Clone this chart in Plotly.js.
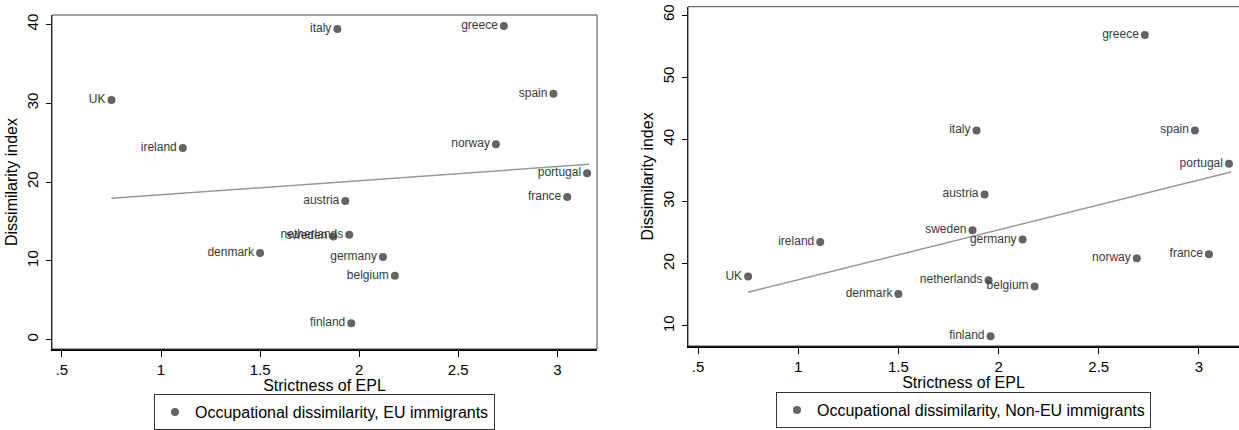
<!DOCTYPE html>
<html>
<head>
<meta charset="utf-8">
<script src="https://cdn.plot.ly/plotly-3.0.1.min.js"></script>
<style>html,body{margin:0;padding:0;background:#fff;}#chart{width:1239px;height:430px;}</style>
</head>
<body>
<div id="chart"></div>
<script>
var countries = ['UK','ireland','italy','greece','spain','norway','portugal','france','austria','netherlands','sweden','germany','belgium','denmark','finland'];
var epl = [0.75,1.11,1.89,2.73,2.98,2.69,3.15,3.05,1.93,1.95,1.87,2.12,2.18,1.50,1.96];
var dissimEU = [30.4,24.3,39.4,39.8,31.2,24.8,21.1,18.1,17.6,13.3,13.1,10.5,8.1,11.0,2.1];
var dissimNonEU = [17.95,23.5,41.45,56.8,41.45,20.9,36.1,21.55,31.15,17.35,25.4,23.9,16.35,15.15,8.35];
var fitX = [0.75,3.16];
var fitEU = [17.93,22.25];
var fitNonEU = [15.42,34.75];
var legendEU = 'Occupational dissimilarity, EU immigrants';
var legendNonEU = 'Occupational dissimilarity, Non-EU immigrants';
var xTicks = [0.5,1,1.5,2,2.5,3];
var xTickText = ['.5','1','1.5','2','2.5','3'];
var yTicksEU = [0,10,20,30,40];
var yTicksNonEU = [10,20,30,40,50,60];

var FONT = '"Liberation Sans", Arial, Helvetica, sans-serif';
var W = 1239, H = 430;
var dL = [52/W, 597/W], dR = [688/W, 1];
var yL = [1-349/H, 1-15/H], yR = [1-346/H, 1-6.7/H];

var markerStyle = {color:'#646464', size:8};
var textStyle = {family:FONT, size:12, color:'#3a3a3a'};

var traces = [
  {x:fitX, y:fitEU, mode:'lines', line:{color:'#999999', width:1.5}, showlegend:false, xaxis:'x', yaxis:'y', hoverinfo:'skip'},
  {x:epl, y:dissimEU, text:countries, mode:'markers+text', textposition:'middle left', textfont:textStyle,
   marker:markerStyle, name:legendEU, xaxis:'x', yaxis:'y', legend:'legend'},
  {x:fitX, y:fitNonEU, mode:'lines', line:{color:'#999999', width:1.5}, showlegend:false, xaxis:'x2', yaxis:'y2', hoverinfo:'skip'},
  {x:epl, y:dissimNonEU, text:countries, mode:'markers+text', textposition:'middle left', textfont:textStyle,
   marker:markerStyle, name:legendNonEU, xaxis:'x2', yaxis:'y2', legend:'legend2'}
];

function xax(domain, anchor){
  return {domain:domain, anchor:anchor, range:[0.45,3.2], tickvals:xTicks, ticktext:xTickText,
    ticks:'outside', ticklen:6, tickwidth:1, tickcolor:'#000', showline:true, linecolor:'#000', linewidth:1.5,
    showgrid:false, zeroline:false, tickfont:{family:FONT, size:15, color:'#000'},
    title:{text:'Strictness of EPL', font:{family:FONT, size:16, color:'#000'}, standoff:0}};
}
function yax(domain, anchor, range, ticks){
  return {domain:domain, anchor:anchor, range:range, tickvals:ticks, tickangle:-90,
    ticks:'outside', ticklen:5, tickwidth:1, tickcolor:'#000', showline:true, linecolor:'#000', linewidth:1.5,
    showgrid:false, zeroline:false, tickfont:{family:FONT, size:15, color:'#000'}, ticklabelstandoff:2,
    title:{text:'Dissimilarity index', font:{family:FONT, size:16, color:'#000'}, standoff:2}};
}

var layout = {
  width:W, height:H, margin:{l:0,r:0,t:0,b:0}, paper_bgcolor:'#fff', plot_bgcolor:'#fff',
  font:{family:FONT, color:'#000'},
  xaxis: xax(dL,'y'), yaxis: yax(yL,'x',[-1.18,41.18], yTicksEU),
  xaxis2: xax(dR,'y2'), yaxis2: yax(yR,'x2',[6.78,61.34], yTicksNonEU),
  legend:{x:324.5/W, xanchor:'center', y:0, yanchor:'bottom', bordercolor:'#333', borderwidth:1, bgcolor:'#fff',
    font:{family:FONT, size:16, color:'#000'}, itemwidth:30},
  legend2:{x:963.5/W, xanchor:'center', y:2/H, yanchor:'bottom', bordercolor:'#333', borderwidth:1, bgcolor:'#fff',
    font:{family:FONT, size:16, color:'#000'}, itemwidth:30},
  shapes:[
    {type:'rect', xref:'paper', yref:'paper', x0:dL[0], x1:dL[1], y0:yL[0], y1:yL[1], line:{color:'#444', width:1}},
    {type:'rect', xref:'paper', yref:'paper', x0:dR[0], x1:dR[1]+0.01, y0:yR[0], y1:yR[1], line:{color:'#444', width:1}}
  ],
  showlegend:true
};
Plotly.newPlot('chart', traces, layout, {displayModeBar:false, staticPlot:true});
</script>
</body>
</html>
